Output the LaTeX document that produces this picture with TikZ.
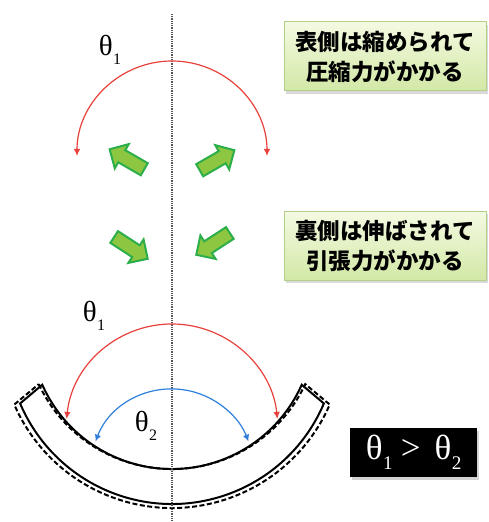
\documentclass[tikz,border=0pt]{standalone}
\usepackage{fontspec}
\usepackage{graphicx}
\setmainfont{Liberation Serif}
\newfontfamily\jpfont{Noto Sans CJK JP}
\usetikzlibrary{calc,shapes.arrows,shadows,arrows.meta}

\definecolor{arcred}{HTML}{E8413C}
\definecolor{arcblue}{HTML}{2F7FDB}
\definecolor{gfill}{HTML}{8DC641}
\definecolor{gline}{HTML}{2CAE4A}
\definecolor{boxtop}{HTML}{F4FAE2}
\definecolor{boxbot}{HTML}{D2E8A6}
\definecolor{boxline}{HTML}{B2D08A}
\definecolor{axisgray}{HTML}{555555}

% theta with a lowered index
\newcommand\thsub[2]{θ\kern0.5pt\raisebox{-0.3em}{\scalebox{#1}{#2}}}

\begin{document}
\begin{tikzpicture}[x=1pt,y=1pt,
  axisline/.style={axisgray,line width=1.1pt,dash pattern=on 1pt off 0.8pt},
  anglearc/.style={line width=1.2pt,{Latex[length=7pt,width=6.5pt]}-{Latex[length=7pt,width=6.5pt]}},
  barline/.style={line width=2pt,line join=miter},
  bardash/.style={line width=2pt,dash pattern=on 5pt off 2.5pt},
  garrow/.style={single arrow,draw=gline,fill=gfill,line width=2pt,
    minimum height=40pt,inner sep=6pt,single arrow head extend=7pt,
    single arrow tip angle=90},
  notebox/.style={draw=boxline,line width=1pt,top color=boxtop,bottom color=boxbot,
    minimum width=202pt,minimum height=69pt,inner sep=0pt,align=center,
    drop shadow={shadow xshift=2pt,shadow yshift=-3pt,opacity=0.3},
    font=\jpfont\bfseries\fontsize{22.5}{30}\selectfont},
  thlabel/.style={inner sep=0pt,font=\fontsize{29}{29}\selectfont},
  resultbox/.style={fill=black,text=white,minimum width=127pt,minimum height=49pt,
    inner sep=0pt,drop shadow={shadow xshift=2pt,shadow yshift=-3pt,opacity=0.35},
    font=\fontsize{35}{35}\selectfont}]
\useasboundingbox (0,0) rectangle (488,522);

% dashed outline of the bar
\coordinate (di) at (172,200);
\coordinate (do) at (172,186);
\draw[bardash] ($(di)+(205:147)$) coordinate (dil)
  arc[start angle=205,end angle=335,radius=147] coordinate (dir)
  -- ($(do)+(336.5:172)$) coordinate (dor)
  arc[start angle=336.5,end angle=203.5,radius=172] coordinate (dol) -- cycle;

% solid bent bar
\coordinate (ci) at (172,195);
\coordinate (co) at (172,183);
\draw[barline] ($(ci)+(204:142)$) coordinate (bil)
  arc[start angle=204,end angle=336,radius=142] coordinate (bir)
  -- ($(co)+(337:165)$) coordinate (bor)
  arc[start angle=337,end angle=203,radius=165] coordinate (bol) -- cycle;

% centre axis
\coordinate (axtop) at (172,508);
\coordinate (axbot) at (172,0);
\draw[axisline] (axtop) -- (axbot);

% angle arcs
\coordinate (t1s) at (77,366);
\draw[anglearc,arcred] (t1s) arc[start angle=180,end angle=0,radius=95];
\coordinate (b1s) at ($(172,92)+(174:106)$);
\draw[anglearc,arcred] (b1s) arc[start angle=174,end angle=6,radius=106];
\coordinate (b2s) at ($(172,51)+(159:82)$);
\draw[anglearc,arcblue] (b2s) arc[start angle=159,end angle=21,radius=82];

% angle labels
\node[thlabel] (th1top) at (110,472) {\thsub{0.55}{1}};
\node[thlabel] (th1bot) at (94,206) {\thsub{0.55}{1}};
\node[thlabel] (th2bot) at (146,96) {\thsub{0.55}{2}};

% force arrows
\node[garrow,rotate=150] (gul) at (130,361) {};
\node[garrow,rotate=30]  (gur) at (214,360) {};
\node[garrow,rotate=-33] (gll) at (128,276) {};
\node[garrow,rotate=213] (glr) at (216,280) {};

% notes
\node[notebox] (note1) at (385,465.5) {表側は縮められて\\圧縮力がかかる};
\node[notebox] (note2) at (385,276) {裏側は伸ばされて\\引張力がかかる};

% result
\node[resultbox] (result) at (413.7,69.8) {\thsub{0.55}{1}\hspace{8pt}>\hspace{14pt}\thsub{0.55}{2}};
\end{tikzpicture}
\end{document}
